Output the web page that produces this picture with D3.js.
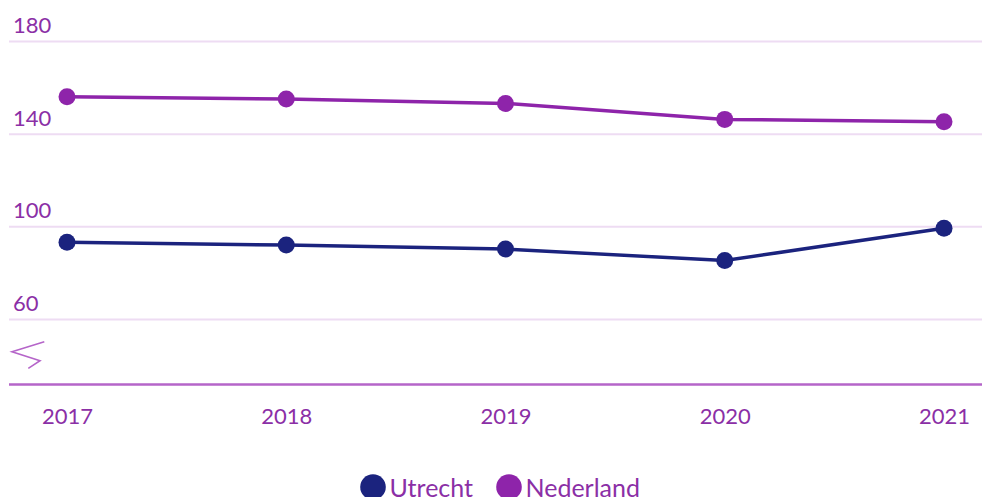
<!DOCTYPE html>
<html>
<head>
<meta charset="utf-8">
<script src="https://cdn.jsdelivr.net/npm/d3@7"></script>
<style>
  body { margin: 0; background: #fff; }
  text { font-family: "Source Sans Pro", Lato, "Open Sans", sans-serif; }
</style>
</head>
<body>
<div id="chart"></div>
<script>
years = ["2017", "2018", "2019", "2020", "2021"];
utrecht = [93.3, 92.1, 90.4, 85.4, 99.4];
nederland = [156.2, 155.2, 153.3, 146.4, 145.4];
yTicks = [60, 100, 140, 180];
seriesNames = ["Utrecht", "Nederland"];
seriesColors = ["#1b237e", "#8e24aa"];

width = 982;
height = 497;
axisY = 384.5;
textColor = "#8b2fa6";

svg = d3.select("#chart").append("svg")
    .attr("width", width)
    .attr("height", height);

x = d3.scalePoint()
    .domain(years)
    .range([67, 944]);

y = d3.scaleLinear()
    .domain([60, 180])
    .range([319.4, 41.6]);

// gridlines + labels
grid = svg.append("g");
grid.selectAll("line")
    .data(yTicks)
    .join("line")
    .attr("x1", 9)
    .attr("x2", width)
    .attr("y1", d => y(d))
    .attr("y2", d => y(d))
    .attr("stroke", "#eedcf3")
    .attr("stroke-width", 2);

grid.selectAll("text")
    .data(yTicks)
    .join("text")
    .attr("x", 13)
    .attr("y", d => y(d) - 8.5)
    .attr("font-size", "22px")
    .attr("fill", textColor)
    .text(d => d);

// axis break symbol
svg.append("path")
    .attr("d", "M44.3,341.7 L12,351.7 L40,360.7 L28.3,368.3")
    .attr("fill", "none")
    .attr("stroke", "#b565c9")
    .attr("stroke-width", 1.6);

// x axis
xAxis = svg.append("g")
    .attr("transform", "translate(0," + axisY + ")")
    .call(d3.axisBottom(x).tickSize(0).tickPadding(24));
xAxis.select(".domain").remove();
xAxis.append("line")
    .attr("x1", 9)
    .attr("x2", width)
    .attr("stroke", "#b565c9")
    .attr("stroke-width", 2.5);
xAxis.selectAll(".tick text")
    .attr("font-size", "22px")
    .attr("font-family", "\"Source Sans Pro\", Lato, \"Open Sans\", sans-serif")
    .attr("fill", textColor);

// lines + points
allSeries = [utrecht, nederland];
line = d3.line()
    .x((d, i) => x(years[i]))
    .y(d => y(d));

allSeries.forEach(function(vals, k) {
  svg.append("path")
      .datum(vals)
      .attr("fill", "none")
      .attr("stroke", seriesColors[k])
      .attr("stroke-width", 3.5)
      .attr("d", line);

  svg.selectAll(".dot" + k)
      .data(vals)
      .join("circle")
      .attr("cx", (d, i) => x(years[i]))
      .attr("cy", d => y(d))
      .attr("r", 8.5)
      .attr("fill", seriesColors[k]);
});

// legend
legendX = [373, 509];
legend = svg.append("g");
legend.selectAll("circle")
    .data(seriesNames)
    .join("circle")
    .attr("cx", (d, i) => legendX[i])
    .attr("cy", 487)
    .attr("r", 12.8)
    .attr("fill", (d, i) => seriesColors[i]);
legend.selectAll("text")
    .data(seriesNames)
    .join("text")
    .attr("x", (d, i) => legendX[i] + 16.5)
    .attr("y", 497)
    .attr("font-size", "25px")
    .attr("fill", textColor)
    .text(d => d);
</script>
</body>
</html>
